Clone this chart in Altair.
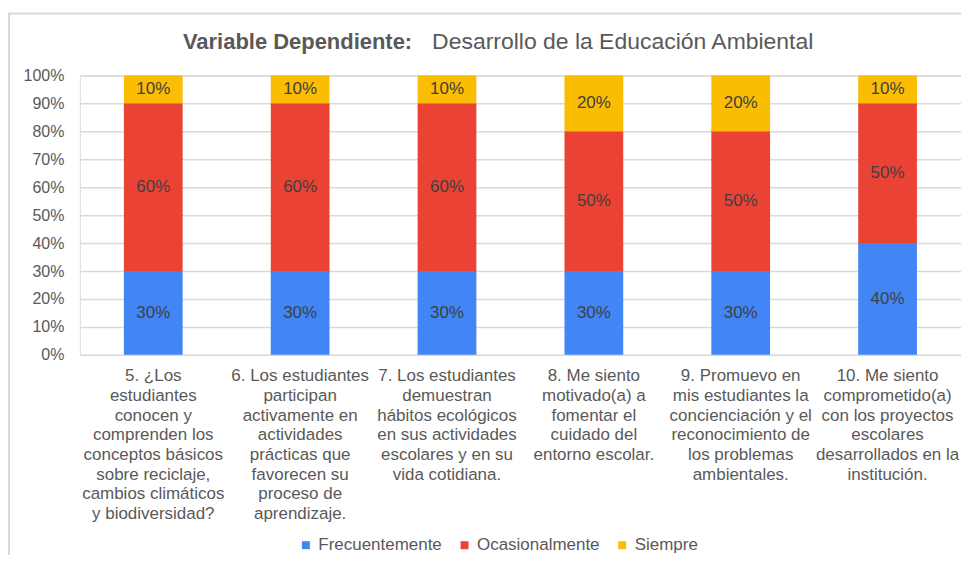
import altair as alt
import pandas as pd

categories = [
    "5. ¿Los|estudiantes|conocen y|comprenden los|conceptos básicos|sobre reciclaje,|cambios climáticos|y biodiversidad?",
    "6. Los estudiantes|participan|activamente en|actividades|prácticas que|favorecen su|proceso de|aprendizaje.",
    "7. Los estudiantes|demuestran|hábitos ecológicos|en sus actividades|escolares y en su|vida cotidiana.",
    "8. Me siento|motivado(a) a|fomentar el|cuidado del|entorno escolar.",
    "9. Promuevo en|mis estudiantes la|concienciación y el|reconocimiento de|los problemas|ambientales.",
    "10. Me siento|comprometido(a)|con los proyectos|escolares|desarrollados en la|institución.",
]
series = ["Frecuentemente", "Ocasionalmente", "Siempre"]
frecuentemente = [0.30, 0.30, 0.30, 0.30, 0.30, 0.40]
ocasionalmente = [0.60, 0.60, 0.60, 0.50, 0.50, 0.50]
siempre = [0.10, 0.10, 0.10, 0.20, 0.20, 0.10]
y_ticks = [0.0, 0.1, 0.2, 0.3, 0.4, 0.5, 0.6, 0.7, 0.8, 0.9, 1.0]
colors = ["#4285F4", "#EA4335", "#FBBC04"]

rows = []
for i, cat in enumerate(categories):
    start = 0.0
    for j, (name, vals) in enumerate(zip(series, [frecuentemente, ocasionalmente, siempre])):
        v = vals[i]
        rows.append({
            "cat": cat, "serie": name, "order": j, "value": v,
            "y0": start, "y1": start + v, "mid": start + v / 2,
        })
        start += v
df = pd.DataFrame(rows)

FONT = "Liberation Sans"
GREY = "#595959"

W, H = 883, 280

y_axis = alt.Axis(format=".0%", values=y_ticks, tickCount=11,
                  labelFontSize=16, labelColor=GREY, labelFont=FONT,
                  labelOverlap=False, labelFlush=False,
                  ticks=False, domain=False, labelPadding=16,
                  gridColor="#d9d9d9", gridWidth=1.5)
y_scale = alt.Scale(domain=[0, 1], nice=False)

x_axis = alt.Axis(
    labelExpr="split(datum.label, '|')", labelAngle=0, labelFontSize=17,
    labelColor=GREY, labelFont=FONT, labelLineHeight=19.7, labelPadding=13,
    labelLimit=0, ticks=False, domain=False, labelBaseline="top", grid=False,
)
x_scale = alt.Scale(paddingInner=0.6, paddingOuter=0.3)

base = alt.Chart(df)

bars = base.mark_bar().encode(
    x=alt.X("cat:N", sort=categories, title=None, scale=x_scale, axis=x_axis),
    y=alt.Y("y0:Q", title=None, scale=y_scale, axis=y_axis),
    y2="y1:Q",
    color=alt.Color("serie:N", sort=series, title=None,
                    scale=alt.Scale(domain=series, range=colors),
                    legend=alt.Legend(orient="none", legendX=218, legendY=462,
                                      direction="horizontal", symbolType="square",
                                      symbolSize=64, symbolStrokeWidth=0,
                                      labelFontSize=17, labelColor=GREY, labelFont=FONT,
                                      columnPadding=14, labelOffset=4)),
    order="order:O",
)

labels = base.mark_text(fontSize=17, color="#404040", font=FONT).encode(
    x=alt.X("cat:N", sort=categories, title=None, scale=x_scale, axis=x_axis),
    y=alt.Y("mid:Q", title=None, scale=y_scale, axis=y_axis),
    text=alt.Text("value:Q", format=".0%"),
)

one = alt.Data(values=[{"a": 1}])
title_bold = alt.Chart(one).mark_text(
    fontSize=22, fontWeight="bold", color=GREY, font=FONT, align="right", baseline="middle"
).encode(x=alt.value(333), y=alt.value(-33), text=alt.value("Variable Dependiente:"))
title_norm = alt.Chart(one).mark_text(
    fontSize=23, color=GREY, font=FONT, align="left", baseline="middle"
).encode(x=alt.value(353), y=alt.value(-33),
         text=alt.value("Desarrollo de la Educación Ambiental"))

frame = alt.Chart(one).mark_rect(fill="transparent", stroke="#d9d9d9", strokeWidth=2).encode(
    x=alt.value(-71), x2=alt.value(W + 20), y=alt.value(-62), y2=alt.value(H + 300)
)

chart = alt.layer(frame, bars, labels, title_bold, title_norm).properties(
    width=W, height=H,
    autosize=alt.AutoSizeParams(type="none"),
    padding={"left": 72, "top": 67, "right": 0, "bottom": 200},
).configure_view(stroke=None).configure(background="white")

chart.save("out.html", embed_options={"renderer": "svg", "actions": False})
